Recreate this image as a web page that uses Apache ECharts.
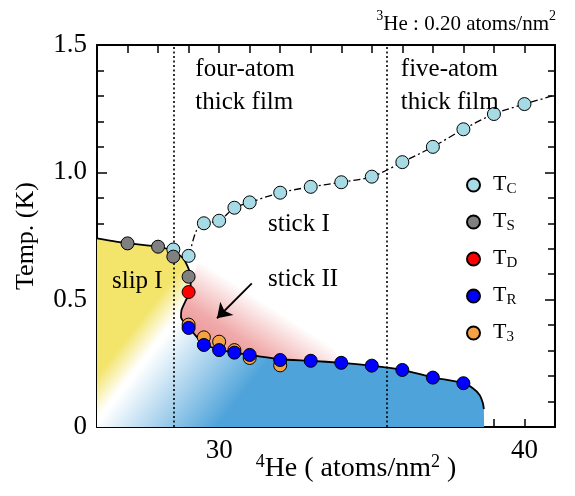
<!DOCTYPE html>
<html>
<head>
<meta charset="utf-8">
<script src="https://cdn.jsdelivr.net/npm/echarts@6/dist/echarts.min.js"></script>
<style>
  html, body { margin: 0; padding: 0; background: #fff; }
  #chart { width: 575px; height: 496px; }
</style>
</head>
<body>
<div id="chart"></div>
<script>
const FONT = "'Liberation Serif', 'Times New Roman', serif";

// x = 4He coverage (atoms/nm2), y = temperature (K)
const tcPoints = [[28.5, 0.697], [29, 0.672], [29.5, 0.80], [30, 0.81], [30.5, 0.861], [31, 0.882],
  [32, 0.92], [33, 0.943], [34, 0.961], [35, 0.983], [36, 1.04], [37, 1.10], [38, 1.169], [39, 1.229], [40, 1.268]];
const tsPoints = [[27, 0.721], [28, 0.708], [28.5, 0.669], [29, 0.59]];
const tdPoints = [[29, 0.53]];
const trPoints = [[29, 0.389], [29.5, 0.322], [30, 0.302], [30.5, 0.292], [31, 0.283], [32, 0.263],
  [33, 0.260], [34, 0.252], [35, 0.241], [36, 0.224], [37, 0.194], [38, 0.172]];
const t3Points = [[29, 0.402], [29.5, 0.352], [30, 0.335], [30.5, 0.302], [31, 0.271], [32, 0.242]];

// dash-dot guide through Tc, running out to the right frame
const tcCurve = [[29.02, 0.672], [29.25, 0.77], [29.5, 0.80], [30, 0.81], [30.5, 0.861], [31, 0.882],
  [32, 0.92], [33, 0.943], [34, 0.961], [35, 0.983], [36, 1.04], [37, 1.10], [38, 1.169], [39, 1.229], [40, 1.268], [41, 1.303]];

// solid phase boundary (slip I / stick II / stick I)
const phaseBoundary = [[26, 0.741], [27.03, 0.721], [28, 0.708], [28.5, 0.690], [28.8, 0.665], [28.97, 0.63],
  [29.07, 0.59], [29.05, 0.53], [28.9, 0.495], [28.77, 0.46], [28.75, 0.432], [28.87, 0.408], [29.02, 0.389],
  [29.28, 0.352], [29.52, 0.325], [30.03, 0.303], [30.52, 0.292], [31.01, 0.283], [32, 0.266], [33, 0.260],
  [34, 0.252], [35, 0.241], [36, 0.224], [37, 0.195], [38, 0.172], [38.31, 0.152], [38.53, 0.126],
  [38.64, 0.093], [38.67, 0.07]];
const boundaryFloor = [[38.68, 0], [26, 0]];

// pink "stick II" wedge above the boundary
const stickTwoFill = [[29.05, 0.56], [29.05, 0.53], [28.9, 0.495], [28.77, 0.46], [28.75, 0.432], [28.87, 0.408],
  [29.02, 0.389], [29.28, 0.352], [29.52, 0.325], [30.03, 0.303], [30.52, 0.292], [31.01, 0.283], [32, 0.266],
  [33, 0.260], [34, 0.252], [33.2, 0.42], [30.6, 0.62], [29.3, 0.64]];

const filmBorders = [28.5, 35.5];
const notes = [
  { name: "four-atom\nthick film", value: [29.22, 1.468], lh: 33 },
  { name: "five-atom\nthick film", value: [35.95, 1.468], lh: 33 },
  { name: "stick I", value: [31.6, 0.848], lh: 26 },
  { name: "stick II", value: [31.6, 0.632], lh: 26 },
  { name: "slip I", value: [26.49, 0.624], lh: 26 },
];
const arrowFrom = [31.07, 0.564];
const arrowTo = [29.93, 0.427];

const chart = echarts.init(document.getElementById("chart"), null, { renderer: "canvas" });

const polygonRenderer = (points, fill) => (params, api) => ({
  type: "polygon",
  shape: { points: points.map((p) => api.coord(p)) },
  style: { fill },
});

// yellow (slip I) -> white streak from the lower-left corner -> blue
const mainFill = new echarts.graphic.LinearGradient(-0.055, 0.755, 0.23, 1.21, [
  { offset: 0, color: "#f3e46c" },
  { offset: 0.1, color: "#f3e46c" },
  { offset: 0.285, color: "#ffffff" },
  { offset: 0.31, color: "#ffffff" },
  { offset: 1, color: "#4ea3da" },
]);
const pinkFill = new echarts.graphic.LinearGradient(0.12, 0.716, 0.33, 0.19, [
  { offset: 0, color: "rgba(238,155,155,1)" },
  { offset: 0.3, color: "rgba(238,155,155,0.85)" },
  { offset: 1, color: "rgba(238,155,155,0)" },
]);

const tickStyle = { color: "#000", width: 1.5 };
const frameX = (position, showLabel) => ({
  type: "value", position, min: 26, max: 41, interval: 1,
  axisLine: { show: true, onZero: false, lineStyle: { color: "#000", width: 2 } },
  axisTick: { show: true, inside: true, length: 8, lineStyle: tickStyle },
  axisLabel: {
    show: showLabel, margin: 10, color: "#000", fontFamily: FONT, fontSize: 27,
    formatter: (v) => (v % 10 === 0 ? String(v) : ""),
  },
  splitLine: { show: false },
});
const frameY = (position, showLabel) => ({
  type: "value", position, min: 0, max: 1.5, interval: 0.5,
  axisLine: { show: true, onZero: false, lineStyle: { color: "#000", width: 2 } },
  axisTick: { show: true, inside: true, length: 10, lineStyle: tickStyle },
  minorTick: { show: true, splitNumber: 5, length: 7, lineStyle: tickStyle },
  axisLabel: {
    show: showLabel, margin: 10, color: "#000", fontFamily: FONT, fontSize: 27,
    formatter: (v) => (v === 0 ? "0" : v.toFixed(1)),
  },
  splitLine: { show: false },
});

const xBottom = frameX("bottom", true);
xBottom.name = "{sup|4}{m|He ( atoms/nm}{sup|2}{m| )}";
xBottom.nameLocation = "middle";
xBottom.nameGap = 26;
xBottom.nameMoveOverlap = false;
xBottom.nameTextStyle = {
  padding: [0, 0, 0, 60],
  rich: {
    m: { fontFamily: FONT, fontSize: 28, lineHeight: 30, color: "#000", verticalAlign: "bottom" },
    sup: { fontFamily: FONT, fontSize: 18, lineHeight: 18, color: "#000", verticalAlign: "top" },
  },
};
const yLeft = frameY("left", true);
yLeft.name = "Temp. (K)";
yLeft.nameLocation = "middle";
yLeft.nameGap = 58;
yLeft.nameMoveOverlap = false;
yLeft.nameTextStyle = { fontFamily: FONT, fontSize: 26, color: "#000" };

const scatter = (name, data, color, z) => ({
  name, type: "scatter", data, z, symbol: "circle", symbolSize: 13,
  itemStyle: { color, borderColor: "#000", borderWidth: 1, opacity: 1 },
});

const legendRich = {
  m: { fontFamily: FONT, fontSize: 22, lineHeight: 24, color: "#000", verticalAlign: "top", padding: [0, 0, 0, 8] },
  s: { fontFamily: FONT, fontSize: 15, lineHeight: 14, color: "#000", verticalAlign: "bottom" },
};

chart.setOption({
  animation: false,
  backgroundColor: "#fff",
  grid: { left: 97, right: 20, top: 45, bottom: 69, containLabel: false, outerBoundsMode: "none" },
  title: {
    text: "{sup|3}{m|He : 0.20 atoms/nm}{sup|2}",
    right: 14, top: 4,
    textStyle: {
      fontWeight: "normal",
      rich: {
        m: { fontFamily: FONT, fontSize: 21, fontWeight: "normal", lineHeight: 26, color: "#000", verticalAlign: "bottom" },
        sup: { fontFamily: FONT, fontSize: 14, fontWeight: "normal", lineHeight: 14, color: "#000", verticalAlign: "top" },
      },
    },
  },
  legend: {
    data: ["TC", "TS", "TD", "TR", "T3"],
    orient: "vertical", left: 461, top: 168, itemGap: 13,
    itemWidth: 13, itemHeight: 13, icon: "circle",
    formatter: (name) => `{m|T}{s|${name.slice(1)}}`,
    textStyle: { rich: legendRich },
    selectedMode: false,
  },
  xAxis: [xBottom, frameX("top", false)],
  yAxis: [yLeft, frameY("right", false)],
  series: [
    {
      type: "custom", name: "region", data: [[26, 0]], z: 1, silent: true,
      renderItem: polygonRenderer(phaseBoundary.concat(boundaryFloor), mainFill),
    },
    {
      type: "custom", name: "stick II", data: [[29, 0.4]], z: 2, silent: true,
      renderItem: polygonRenderer(stickTwoFill, pinkFill),
    },
    {
      type: "line", name: "boundary", data: phaseBoundary, z: 3, smooth: 0.2,
      symbol: "none", lineStyle: { color: "#000", width: 1.8 }, silent: true,
      markLine: {
        silent: true, symbol: "none", label: { show: false },
        lineStyle: { color: "#000", width: 1.6, type: [2, 2.5] },
        data: filmBorders.map((x) => ({ xAxis: x })),
      },
    },
    {
      type: "line", name: "tc guide", data: tcCurve, z: 3, smooth: 0.3,
      symbol: "none", lineStyle: { color: "#000", width: 1.3, type: [7, 3, 2, 3] }, silent: true,
      markLine: {
        silent: true, symbol: ["none", "arrow"], symbolSize: 14, label: { show: false },
        lineStyle: { color: "#000", width: 1.8, type: "solid" },
        itemStyle: { color: "#000" },
        data: [[{ coord: arrowFrom }, { coord: arrowTo }]],
      },
    },
    scatter("T3", t3Points, "#f5a244", 4),
    scatter("TR", trPoints, "#0000ff", 5),
    scatter("TC", tcPoints, "#a6dbe6", 6),
    scatter("TS", tsPoints, "#808080", 7),
    scatter("TD", tdPoints, "#ff0000", 8),
    {
      type: "scatter", name: "notes", symbolSize: 0, z: 9, silent: true,
      itemStyle: { opacity: 1 },
      data: notes.map((n) => ({
        name: n.name, value: n.value,
        label: { lineHeight: n.lh },
      })),
      label: {
        show: true, position: [0, 0], align: "left", verticalAlign: "top",
        formatter: "{b}", fontFamily: FONT, fontSize: 25, color: "#000",
      },
    },
  ],
});
</script>
</body>
</html>
